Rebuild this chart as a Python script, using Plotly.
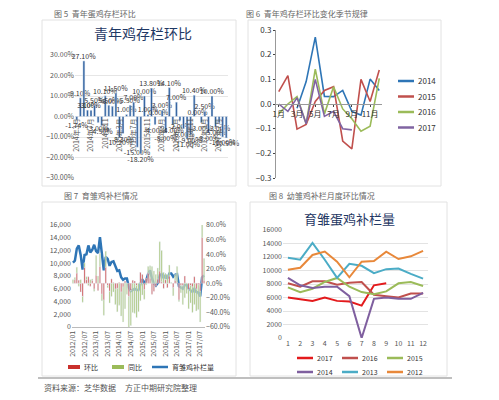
import plotly.graph_objects as go

# page keeps an 8px body margin, so the figure is 8px smaller on each side
OFF = 8
W, H = 499 - 2 * OFF, 400 - 2 * OFF
FONT = "Noto Sans CJK SC"

# ---- 图6 / 图5 data: 青年鸡存栏环比 (by month)
months = list(range(1, 13))
hb_2014 = [None, None, -0.0174, 0.091, 0.271, 0.031, 0.030, 0.055, -0.030, -0.045, 0.101, 0.055]
hb_2015 = [0.050, 0.115, -0.102, -0.083, 0.010, 0.055, 0.070, -0.150, -0.182, 0.100, 0.010, 0.138]
hb_2016 = [-0.040, 0.000, 0.030, -0.080, 0.141, -0.040, 0.070, -0.020, -0.060, -0.110, -0.090, 0.104]
hb_2017 = [0.000, -0.030, 0.025, -0.080, 0.100, -0.050, -0.030, -0.100, -0.105, None, None, None]
hb_years = {"2014": hb_2014, "2015": hb_2015, "2016": hb_2016, "2017": hb_2017}
hb_colors = {"2014": "#2e75b6", "2015": "#c0504d", "2016": "#9bbb59", "2017": "#8064a2"}
month_ticks = ["1月", "3月", "5月", "7月", "9月", "11月"]

# ---- 图8 data: 育雏蛋鸡补栏量
bl_2012 = [10100, 10400, 12300, 12800, 11300, 9000, 11300, 11400, 12800, 11700, 12100, 12900]
bl_2013 = [11900, 11600, 14100, 11600, 8900, 11000, 10700, 9600, 10200, 10300, 9500, 8800]
bl_2014 = [8900, 7800, 7400, 7600, 7600, 6200, 0, 5800, 6000, 5800, 5800, 6700]
bl_2015 = [7500, 6800, 7300, 8300, 8900, 7600, 6800, 6500, 6900, 8100, 8300, 7700]
bl_2016 = [8100, 7600, 8400, 8400, 7900, 8200, 8300, 6400, 6200, 6000, 6600, 6600]
bl_2017 = [6000, 5800, 5500, 6000, 5500, 5400, 4800, 7800, 8100]
bl_series = [("2017", bl_2017, "#e31a1c"), ("2016", bl_2016, "#c0504d"), ("2015", bl_2015, "#9bbb59"),
             ("2014", bl_2014, "#7f5f9f"), ("2013", bl_2013, "#4bacc6"), ("2012", bl_2012, "#e8883a")]

# ---- 图7 data: 育雏鸡补栏情况 2012/01 - 2017/09
fill_line = [10100, 10400, 12300, 12800, 11300, 9000, 11300, 11400, 12800, 11700, 12100, 12900,
             11900, 11600, 14100, 11600, 8900, 11000, 10700, 9600, 10200, 10300, 9500, 8800,
             8900, 7800, 7400, 7600, 7600, 6200, 5600, 5800, 6000, 5800, 5800, 6700,
             7500, 6800, 7300, 8300, 8900, 7600, 6800, 6500, 6900, 8100, 8300, 7700,
             8100, 7600, 8400, 8400, 7900, 8200, 8300, 6400, 6200, 6000, 6600, 6600,
             6000, 5800, 5500, 6000, 5500, 5400, 4800, 7800, 8100]
mom = [0, 5, 14, 4, -12, -18, 22, 5, 9, -4, 4, -8,
       11, -10, 23, -15, -23, 22, -3, -11, 6, 1, -8, -7,
       1, -12, -5, 3, 0, -18, -10, 4, 3, -3, 0, 15,
       12, -9, 7, 14, 7, -15, -11, -4, 6, 17, 2, -7,
       5, -6, 10, 0, -6, 4, 1, -23, -3, -3, 10, 0,
       -9, -3, -5, 9, -8, -2, -11, 63, 4]
yoy = [5, 3, 8, -4, 5, -8, 6, 4, -3, 5, 2, -3,
       27, 10, 18, -9, -21, 22, -3, -16, -18, -12, -21, -32,
       -30, -33, -48, -35, -15, -44, -48, -40, -41, -44, -39, -24,
       -16, -13, -2, 9, 17, 23, 17, 12, 15, 40, 43, 15,
       8, 12, 15, 1, -11, 8, 22, -2, -10, -26, -20, -14,
       -26, -24, -35, -29, -30, -34, -42, 22, 30]
dates = [f"{y}/{m:02d}" for y in range(2012, 2018) for m in range(1, 13)][:len(fill_line)]

# 图5 bars: chained monthly values 2014/03 - 2017/09
bar_vals, bar_cats = [], []
for y, vals in hb_years.items():
    for m, v in zip(months, vals):
        if v is not None:
            bar_vals.append(v)
            bar_cats.append(f"{y}年{m}月")


def px_x(a):
    return (a - OFF) / W


def px_y(b):
    return 1 - (b - OFF) / H


fig = go.Figure()

# ---------- 图5
fig.add_trace(go.Bar(x=bar_cats, y=bar_vals, marker_color="#2e5f9e", width=0.55,
                     text=[f"{v*100:.2f}%" for v in bar_vals], textposition="outside",
                     constraintext="none", textangle=0,
                     textfont=dict(size=7, color="#333"), cliponaxis=False,
                     xaxis="x", yaxis="y"))

# ---------- 图6
for y, vals in hb_years.items():
    fig.add_trace(go.Scatter(x=months, y=vals, mode="lines", name=y, line=dict(color=hb_colors[y], width=1.6),
                             xaxis="x2", yaxis="y2"))

# ---------- 图7
fig.add_trace(go.Bar(x=dates, y=mom, name="环比", marker_color="#c9302c", xaxis="x3", yaxis="y4", width=0.6))
fig.add_trace(go.Bar(x=dates, y=yoy, name="同比", marker_color="#9bbb59", xaxis="x3", yaxis="y4", width=0.6))
fig.add_trace(go.Scatter(x=dates, y=fill_line, mode="lines", name="育雏鸡补栏量",
                         line=dict(color="#2e75b6", width=2.5), xaxis="x3", yaxis="y3"))

# ---------- 图8
for name, vals, col in bl_series:
    fig.add_trace(go.Scatter(x=months[:len(vals)], y=vals, mode="lines", name=name,
                             line=dict(color=col, width=2), xaxis="x4", yaxis="y5"))

tick = dict(size=7, color="#555", family=FONT)
fig.update_layout(
    width=W, height=H, margin=dict(l=0, r=0, t=0, b=0, autoexpand=False), showlegend=False,
    paper_bgcolor="white", plot_bgcolor="rgba(0,0,0,0)",
    font=dict(family=FONT, size=7, color="#555"), barmode="relative",
    xaxis=dict(domain=[px_x(75), px_x(228)], anchor="free", position=px_y(116),
               tickangle=-90, tickfont=tick, showline=False, showgrid=False,
               tickmode="array", tickvals=bar_cats[::4], ticktext=[c[:7] for c in bar_cats[::4]]),
    yaxis=dict(domain=[px_y(178), px_y(55)], range=[-0.3, 0.3], dtick=0.1, tickformat=".2%",
               tickfont=tick, gridcolor="#e6e6e6", zeroline=False, anchor="x"),
    xaxis2=dict(domain=[px_x(276), px_x(382)], anchor="free", position=px_y(104), range=[0.7, 12.3],
                tickvals=[1, 3, 5, 7, 9, 11], ticktext=month_ticks, tickfont=dict(size=8, color="#333"),
                showgrid=False, showline=True, linecolor="#999", ticks="outside", ticklen=2),
    yaxis2=dict(domain=[px_y(178), px_y(30)], range=[-0.3, 0.3], dtick=0.1, tickfont=dict(size=8, color="#333"),
                showgrid=False, zeroline=False, showline=True, linecolor="#999", anchor="x2",
                ticks="outside", ticklen=2, tickformat=".1f"),
    xaxis3=dict(domain=[px_x(72), px_x(205)], anchor="y3", tickangle=-90, tickfont=tick,
                tickmode="array", tickvals=dates[::6], showgrid=False, showline=True, linecolor="#bbb"),
    yaxis3=dict(domain=[px_y(327), px_y(225)], range=[0, 16000], dtick=2000, tickformat=",",
                tickfont=tick, showgrid=False, zeroline=False, anchor="x3"),
    yaxis4=dict(overlaying="y3", side="right", range=[-60, 80], dtick=20, ticksuffix=".0%",
                tickfont=tick, showgrid=False, zeroline=False, anchor="x3"),
    xaxis4=dict(domain=[px_x(283), px_x(428)], anchor="y5", range=[0.6, 12.4], dtick=1,
                tickfont=tick, showgrid=False, showline=False),
    yaxis5=dict(domain=[px_y(338), px_y(230)], range=[0, 16000], dtick=2000, tickformat="d", tickfont=tick,
                gridcolor="#e3e3e3", zeroline=False, anchor="x4"),
)

shapes = [
    dict(type="line", x0=px_x(35), x1=px_x(462), y0=px_y(4), y1=px_y(4), line=dict(color="#8b1a1a", width=2.5)),
    dict(type="line", x0=px_x(35), x1=px_x(455), y0=px_y(7), y1=px_y(7), line=dict(color="#bbb", width=1)),
    dict(type="line", x0=px_x(38), x1=px_x(452), y0=px_y(378), y1=px_y(378), line=dict(color="#aaa", width=1.5)),
]
for x0, y0, x1, y1 in [(42, 20, 236, 186), (248, 20, 441, 186), (42, 202, 236, 376), (250, 202, 447, 376)]:
    shapes.append(dict(type="rect", x0=px_x(x0), x1=px_x(x1), y0=px_y(y1), y1=px_y(y0),
                       line=dict(color="#e2e2e2", width=1)))

texts = [
    ("图 5  青年蛋鸡存栏环比", 52, 13, 8, "#666"),
    ("图 6  青年鸡存栏环比变化季节规律", 244, 13, 8, "#666"),
    ("图 7  育雏鸡补栏情况", 62, 195, 8, "#666"),
    ("图 8  幼雏鸡补栏月度环比情况", 267, 195, 8, "#666"),
    ("资料来源：芝华数据     方正中期研究院整理", 42, 387, 8, "#555"),
    ("青年鸡存栏环比", 92, 33, 14, "#1f3864"),
    ("育雏蛋鸡补栏量", 302, 218, 13, "#1f3864"),
]

# hand-drawn legends (key position, label, colour, style)
legend_items = [(398, 81 + i * 15.5, y, hb_colors[y], "line") for i, y in enumerate(hb_years)]
legend_items += [(68, 367, "环比", "#c9302c", "box"), (112, 367, "同比", "#9bbb59", "box"),
                 (152, 367, "育雏鸡补栏量", "#2e75b6", "line")]
for i, (name, _, col) in enumerate(bl_series):
    legend_items.append((297 + (i % 3) * 45, 358 + (i // 3) * 14, name, col, "line"))

for x, y, label, col, style in legend_items:
    if style == "line":
        shapes.append(dict(type="line", x0=px_x(x), x1=px_x(x + 16), y0=px_y(y), y1=px_y(y),
                           line=dict(color=col, width=2.5)))
        texts.append((label, x + 18, y, 7 if x < 240 or y > 300 else 8, "#333"))
    else:
        shapes.append(dict(type="rect", x0=px_x(x), x1=px_x(x + 12), y0=px_y(y + 2), y1=px_y(y - 2),
                           fillcolor=col, line=dict(width=0)))
        texts.append((label, x + 14, y, 7, "#333"))

for s in shapes:
    s.update(xref="paper", yref="paper")
fig.update_layout(shapes=shapes)

for txt, x, y, sz, col in texts:
    fig.add_annotation(text=txt, x=px_x(x), y=px_y(y), xref="paper", yref="paper", xanchor="left",
                       yanchor="middle", showarrow=False, font=dict(size=sz, color=col, family=FONT))

fig.write_html("out.html")
